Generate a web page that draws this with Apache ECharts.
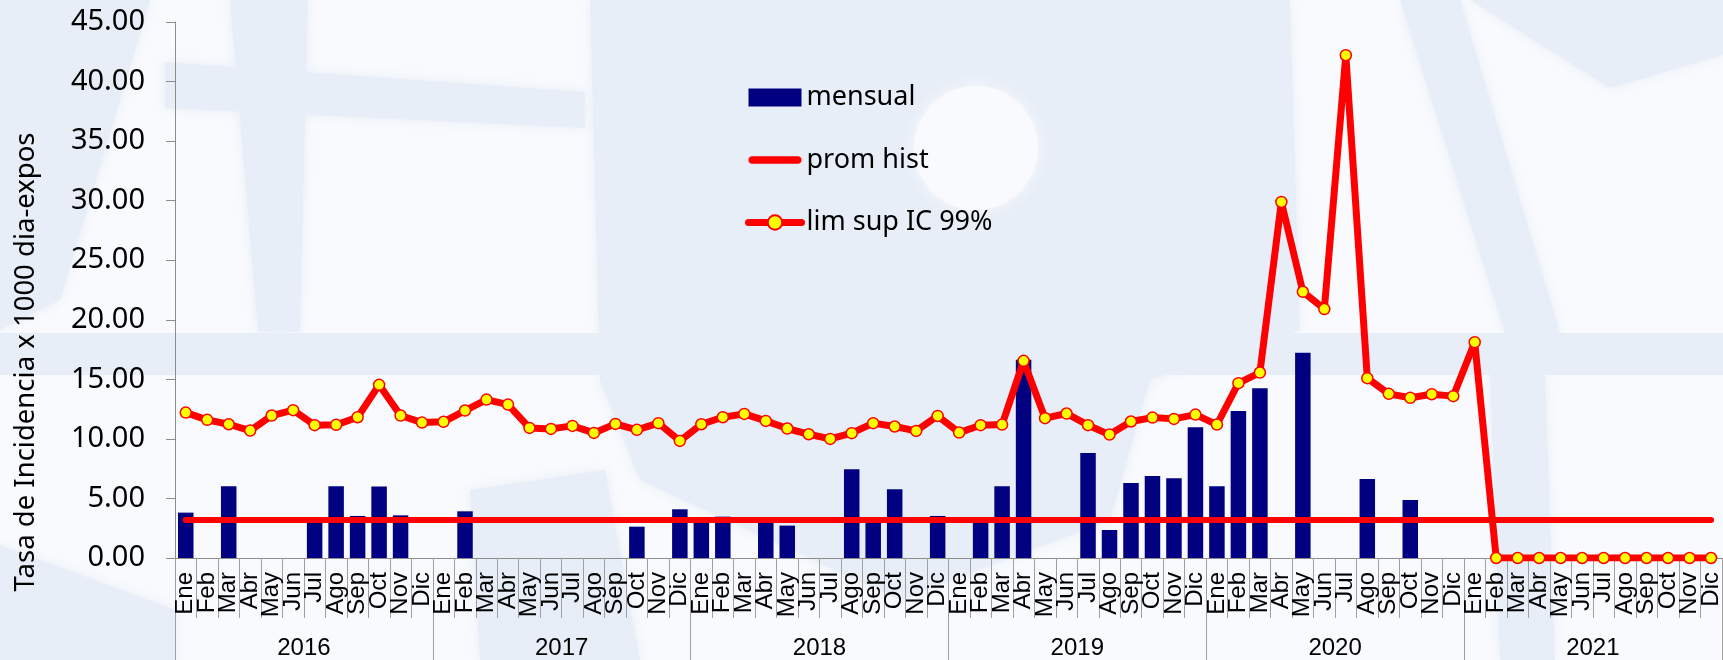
<!DOCTYPE html>
<html>
<head>
<meta charset="utf-8">
<script src="https://cdn.jsdelivr.net/npm/echarts@6/dist/echarts.min.js"></script>
<style>
html,body{margin:0;padding:0;background:#F8FAFD;}
#chart{width:1723px;height:660px;}
</style>
</head>
<body>
<div id="chart"></div>
<script>
// ---- data ----
const monthNames = ['Ene','Feb','Mar','Abr','May','Jun','Jul','Ago','Sep','Oct','Nov','Dic'];
const years = ['2016','2017','2018','2019','2020','2021'];
const yTicks = [0,5,10,15,20,25,30,35,40,45];

const mensual2016 = [3.81, 0, 6.02, 0, 0, 0, 3.20, 6.02, 3.53, 6.00, 3.58, 0];
const mensual2017 = [0, 3.92, 0, 0, 0, 0, 0, 0, 0, 2.63, 0, 4.09];
const mensual2018 = [3.20, 3.47, 0, 3.20, 2.72, 0, 0, 7.45, 3.20, 5.77, 0, 3.53];
const mensual2019 = [0, 3.20, 6.02, 16.64, 0, 0, 8.82, 2.35, 6.30, 6.89, 6.69, 10.98];
const mensual2020 = [6.02, 12.35, 14.26, 0, 17.23, 0, 0, 6.64, 0, 4.87, 0, 0];
const mensual2021 = [0, 0, 0, 0, 0, 0, 0, 0, 0, 0, 0, 0];

const lim2016 = [12.21, 11.60, 11.23, 10.70, 11.96, 12.41, 11.15, 11.18, 11.82, 14.54, 11.96, 11.37];
const lim2017 = [11.43, 12.38, 13.30, 12.88, 10.92, 10.84, 11.09, 10.50, 11.26, 10.76, 11.32, 9.83];
const lim2018 = [11.23, 11.82, 12.10, 11.51, 10.87, 10.39, 10.00, 10.48, 11.32, 11.04, 10.67, 11.93];
const lim2019 = [10.53, 11.15, 11.20, 16.55, 11.74, 12.13, 11.15, 10.36, 11.46, 11.79, 11.68, 12.04];
const lim2020 = [11.20, 14.68, 15.57, 29.89, 22.35, 20.90, 42.21, 15.10, 13.78, 13.45, 13.75, 13.59];
const lim2021 = [18.12, 0, 0, 0, 0, 0, 0, 0, 0, 0, 0, 0];

const promHistValue = 3.19;

// ---- derived ----
const categories = [];
years.forEach(() => monthNames.forEach(m => categories.push(m)));
const mensual = [].concat(mensual2016, mensual2017, mensual2018, mensual2019, mensual2020, mensual2021);
const limSup = [].concat(lim2016, lim2017, lim2018, lim2019, lim2020, lim2021);
const promHist = categories.map(() => promHistValue);

const BLUE = '#E8EEF7';
const WHITE = '#F8FAFD';
function poly(points, fill) {
  return { type: 'polygon', z: -100, silent: true, shape: { points: points }, style: { fill: fill, shadowBlur: 12, shadowColor: fill } };
}

const chart = echarts.init(document.getElementById('chart'), null, { renderer: 'canvas' });
chart.setOption({
  animation: false,
  backgroundColor: WHITE,
  graphic: [
    poly([[590,0],[1290,0],[1300,330],[1150,380],[1110,520],[900,600],[640,480],[600,380]], BLUE),
    { type: 'circle', z: -99, silent: true, shape: { cx: 976, cy: 148, r: 62 }, style: { fill: WHITE, shadowBlur: 14, shadowColor: WHITE } },
    { type: 'rect', z: -98, silent: true, shape: { x: 0, y: 333, width: 1723, height: 42 }, style: { fill: BLUE } },
    poly([[230,0],[308,0],[300,332],[258,332]], BLUE),
    poly([[0,0],[150,0],[60,300],[0,330]], BLUE),
    poly([[165,62],[585,92],[585,128],[165,108]], BLUE),
    poly([[1400,0],[1460,0],[1560,333],[1505,333]], BLUE),
    poly([[1490,375],[1545,375],[1555,660],[1500,660]], BLUE),
    poly([[1470,0],[1723,0],[1723,55],[1610,88]], BLUE),
    poly([[0,545],[175,610],[175,660],[0,660]], BLUE),
    poly([[470,490],[605,470],[640,660],[480,660]], BLUE),
    {
      type: 'text', z: 10, silent: true,
      x: 26, y: 362, rotation: Math.PI / 2,
      style: {
        text: 'Tasa de Incidencia x 1000 dia-expos',
        font: '27.5px "Noto Sans"', fill: '#000',
        align: 'center', verticalAlign: 'middle'
      }
    }
  ],
  legend: {
    orient: 'vertical',
    left: 740, top: 79,
    itemWidth: 53, itemHeight: 18, itemGap: 35.5,
    textStyle: { fontFamily: 'Noto Sans', fontSize: 27, color: '#000' },
    data: [
      { name: 'mensual', icon: 'rect' },
      { name: 'prom hist', icon: 'path://M0,0 M57,0 M57,18 M0,18 M4,5 L53,5 A4,4 0 0 1 53,13 L4,13 A4,4 0 0 1 4,5 Z' },
      { name: 'lim sup IC 99%', lineStyle: { width: 7, cap: 'round' } }
    ]
  },
  grid: { left: 175, right: -3, top: 22, bottom: 102, containLabel: false },
  xAxis: [
    {
      type: 'category', data: categories, position: 'bottom',
      axisLine: { show: true, lineStyle: { color: '#8C8C8C', width: 1 } },
      axisTick: { show: true, length: 60, alignWithLabel: false, interval: 0, lineStyle: { color: '#A0A0A0', width: 1 } },
      axisLabel: { interval: 0, rotate: 90, margin: 14, fontFamily: 'Liberation Sans', fontSize: 24, color: '#000', hideOverlap: false },
      splitLine: { show: false }
    },
    {
      type: 'category', data: years, position: 'bottom', gridIndex: 0,
      axisLine: { show: false },
      axisTick: { show: true, length: 102, alignWithLabel: false, interval: 0, lineStyle: { color: '#A0A0A0', width: 1 } },
      axisLabel: { interval: 0, margin: 78, fontFamily: 'Liberation Sans', fontSize: 24, color: '#000' },
      splitLine: { show: false }
    }
  ],
  yAxis: {
    type: 'value', min: yTicks[0], max: yTicks[yTicks.length - 1], interval: 5,
    axisLine: { show: true, lineStyle: { color: '#8C8C8C', width: 1 } },
    axisTick: { show: true, inside: false, length: 9, lineStyle: { color: '#8C8C8C' } },
    axisLabel: { margin: 30, fontFamily: 'Noto Sans', fontSize: 29, color: '#000', formatter: v => v.toFixed(2) },
    splitLine: { show: false }
  },
  series: [
    {
      name: 'mensual', type: 'bar', data: mensual, xAxisIndex: 0,
      barWidth: 15.5, z: 2,
      itemStyle: { color: '#000080' }
    },
    {
      name: 'prom hist', type: 'line', data: promHist, xAxisIndex: 0,
      symbol: 'none', z: 3,
      lineStyle: { color: '#FF0000', width: 6, cap: 'round' },
      itemStyle: { color: '#FF0000' }
    },
    {
      name: 'lim sup IC 99%', type: 'line', data: limSup, xAxisIndex: 0,
      symbol: 'circle', symbolSize: 11, showAllSymbol: true, z: 4,
      lineStyle: { color: '#FF0000', width: 7, cap: 'round', join: 'round' },
      itemStyle: { color: '#FFFF00', borderColor: '#FF0000', borderWidth: 1.5 }
    }
  ]
});
</script>
</body>
</html>
